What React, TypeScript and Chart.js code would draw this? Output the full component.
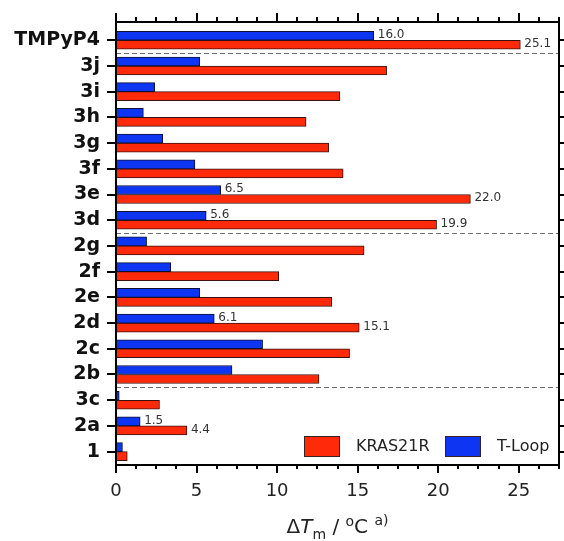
import React, { useEffect, useRef } from 'react';
import { Chart, registerables } from 'chart.js';

Chart.register(...registerables);

const categories = ['TMPyP4', '3j', '3i', '3h', '3g', '3f', '3e', '3d', '2g', '2f', '2e', '2d', '2c', '2b', '3c', '2a', '1'];
const tLoop = [16.0, 5.2, 2.4, 1.7, 2.9, 4.9, 6.5, 5.6, 1.9, 3.4, 5.2, 6.1, 9.1, 7.2, 0.2, 1.5, 0.4];
const kras21r = [25.1, 16.8, 13.9, 11.8, 13.2, 14.1, 22.0, 19.9, 15.4, 10.1, 13.4, 15.1, 14.5, 12.6, 2.7, 4.4, 0.7];
const labeledCategories = ['TMPyP4', '3e', '3d', '2d', '2a'];
const groupEndCategories = ['TMPyP4', '3d', '2b'];
const xMajorTicks = [0, 5, 10, 15, 20, 25];
const xMinorStep = 1.25;
const xMax = 27.5;

const RED = '#FF2A0A';
const BLUE = '#0D35F2';
const FONT = '"DejaVu Sans", Verdana, sans-serif';

const decorPlugin = {
  id: 'decor',
  beforeDatasetsDraw(chart: any) {
    const { ctx, chartArea } = chart;
    const y = chart.scales.y;
    ctx.save();
    ctx.strokeStyle = '#707070';
    ctx.lineWidth = 1;
    ctx.setLineDash([5, 3]);
    groupEndCategories.forEach((c) => {
      const i = categories.indexOf(c);
      const py = Math.round(y.getPixelForValue(i + 0.5)) + 0.5;
      ctx.beginPath();
      ctx.moveTo(chartArea.left, py);
      ctx.lineTo(chartArea.right, py);
      ctx.stroke();
    });
    ctx.restore();
  },
  afterDraw(chart: any) {
    const { ctx, chartArea } = chart;
    const xs = chart.scales.x;
    const ys = chart.scales.y;
    const { left, right, top, bottom } = chartArea;
    ctx.save();
    ctx.setLineDash([]);
    ctx.strokeStyle = '#000';
    ctx.lineWidth = 2;
    ctx.strokeRect(left, top, right - left, bottom - top);
    // x ticks (bottom & top)
    for (let v = 0; v <= xMax + 1e-9; v += xMinorStep) {
      const px = Math.round(xs.getPixelForValue(v));
      const major = xMajorTicks.includes(Math.round(v * 100) / 100);
      ctx.beginPath();
      ctx.moveTo(px, bottom);
      ctx.lineTo(px, bottom + (major ? 8 : 4));
      ctx.moveTo(px, top);
      ctx.lineTo(px, top - (major ? 9 : 5));
      ctx.stroke();
    }
    // y ticks (left & right)
    categories.forEach((_, i) => {
      const py = Math.round(ys.getPixelForValue(i));
      ctx.beginPath();
      ctx.moveTo(left - 9, py);
      ctx.lineTo(left, py);
      ctx.moveTo(right, py);
      ctx.lineTo(right + 6, py);
      ctx.stroke();
    });
    // value labels
    ctx.font = `12px ${FONT}`;
    ctx.fillStyle = '#333';
    ctx.textBaseline = 'middle';
    ctx.textAlign = 'left';
    chart.data.datasets.forEach((ds: any, di: number) => {
      const meta = chart.getDatasetMeta(di);
      labeledCategories.forEach((c) => {
        const i = categories.indexOf(c);
        const el = meta.data[i];
        ctx.fillText(ds.data[i].x.toFixed(1), el.x + 4, el.y - 1);
      });
    });
    // legend
    const legendItems = [
      { label: 'KRAS21R', color: RED, x: right - 255 },
      { label: 'T-Loop', color: BLUE, x: right - 114 },
    ];
    ctx.font = `16px ${FONT}`;
    legendItems.forEach((it) => {
      ctx.fillStyle = it.color;
      ctx.fillRect(it.x, bottom - 29, 36, 21);
      ctx.lineWidth = 1;
      ctx.strokeStyle = '#3a2020';
      ctx.strokeRect(it.x + 0.5, bottom - 28.5, 35, 20);
      ctx.fillStyle = '#222';
      ctx.fillText(it.label, it.x + 52, bottom - 18);
    });
    // axis title: ΔTm / ºC a)
    const parts = [
      { t: '\u0394', f: `20px ${FONT}`, dy: 0 },
      { t: 'T', f: `italic 20px ${FONT}`, dy: 0 },
      { t: 'm', f: `14px ${FONT}`, dy: 6 },
      { t: ' / ', f: `20px ${FONT}`, dy: 0 },
      { t: 'o', f: `14px ${FONT}`, dy: -7 },
      { t: 'C', f: `20px ${FONT}`, dy: 0 },
      { t: ' ', f: `20px ${FONT}`, dy: 0 },
      { t: 'a)', f: `14px ${FONT}`, dy: -8 },
    ];
    ctx.textBaseline = 'alphabetic';
    let total = 0;
    parts.forEach((p) => {
      ctx.font = p.f;
      total += ctx.measureText(p.t).width;
    });
    let cx = (left + right) / 2 - total / 2;
    const base = 533;
    ctx.fillStyle = '#222';
    parts.forEach((p) => {
      ctx.font = p.f;
      ctx.fillText(p.t, cx, base + p.dy);
      cx += ctx.measureText(p.t).width;
    });
    ctx.restore();
  },
};

export default function App() {
  const ref = useRef<HTMLCanvasElement | null>(null);
  useEffect(() => {
    document.body.style.margin = '0';
    const canvas = ref.current;
    if (!canvas) return;
    const chart = new Chart(canvas, {
      type: 'bar',
      data: {
        datasets: [
          {
            label: 'T-Loop',
            data: tLoop.map((v, i) => ({ x: v, y: i })),
            backgroundColor: BLUE,
            borderColor: '#101030',
            borderWidth: 1,
            borderSkipped: false,
            barThickness: 9,
          },
          {
            label: 'KRAS21R',
            data: kras21r.map((v, i) => ({ x: v, y: i })),
            backgroundColor: RED,
            borderColor: '#3a1010',
            borderWidth: 1,
            borderSkipped: false,
            barThickness: 9,
          },
        ],
      },
      options: {
        indexAxis: 'y',
        animation: false,
        responsive: false,
        maintainAspectRatio: false,
        layout: { padding: { top: 22, right: 5, left: 0, bottom: 0 } },
        plugins: { legend: { display: false }, tooltip: { enabled: false } },
        scales: {
          x: {
            type: 'linear',
            min: 0,
            max: xMax,
            offset: false,
            afterBuildTicks: (s: any) => {
              s.ticks = xMajorTicks.map((v) => ({ value: v }));
            },
            afterFit: (s: any) => {
              s.height = 76;
            },
            grid: { display: false, drawTicks: true, tickLength: 8, offset: false },
            border: { display: false },
            ticks: { font: { family: FONT, size: 18 }, color: '#222', padding: 8, maxRotation: 0 },
          },
          y: {
            type: 'linear',
            min: -0.71,
            max: 16.52,
            reverse: true,
            offset: false,
            afterBuildTicks: (s: any) => {
              s.ticks = categories.map((_, i) => ({ value: i }));
            },
            afterFit: (s: any) => {
              s.width = 116;
            },
            grid: { display: false, drawTicks: true, tickLength: 9, offset: false },
            border: { display: false },
            ticks: {
              font: { family: FONT, size: 19, weight: 'bold' },
              color: '#111',
              padding: 7,
              callback: (v: any) => categories[v] ?? '',
            },
          },
        },
      },
      plugins: [decorPlugin],
    } as any);
    return () => chart.destroy();
  }, []);
  return (
    <div style={{ width: 564, height: 541 }}>
      <canvas ref={ref} width={564} height={541} style={{ display: 'block' }} />
    </div>
  );
}
